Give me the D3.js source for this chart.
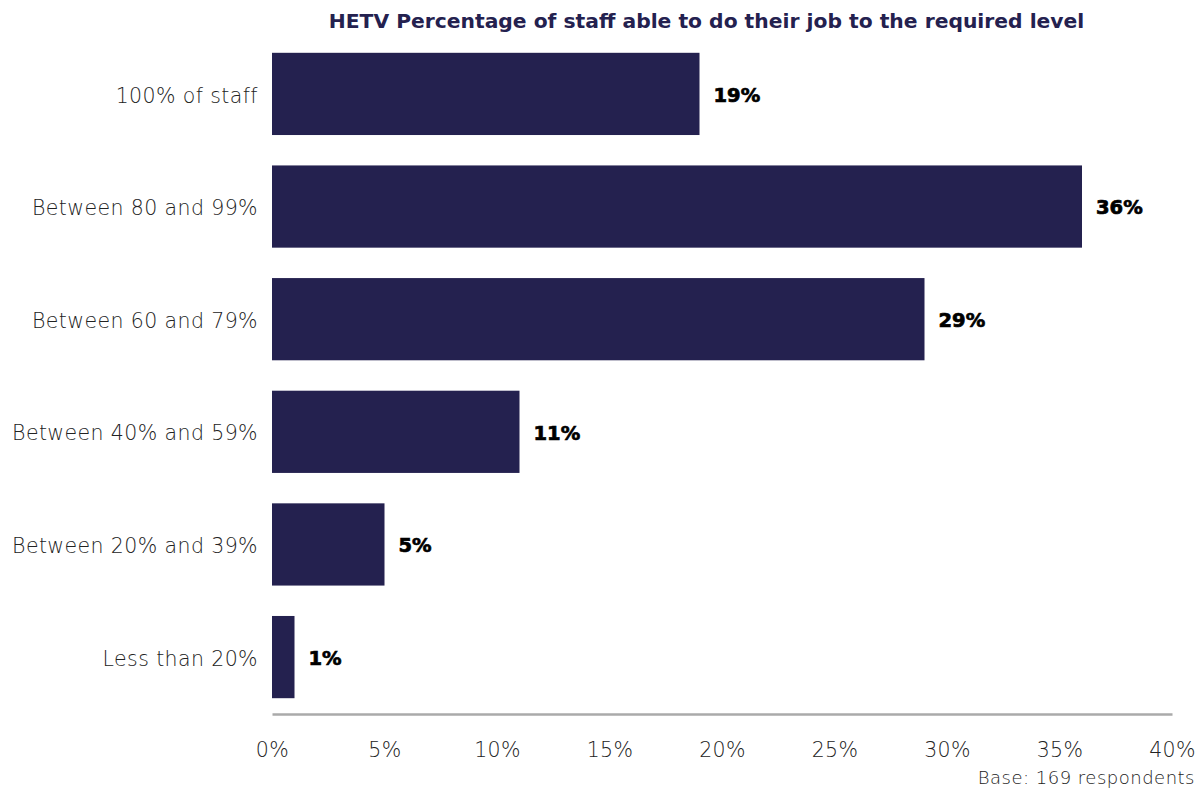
<!DOCTYPE html>
<html><head><meta charset="utf-8">
<script src="https://cdn.jsdelivr.net/npm/d3@7"></script>
<style>
body{margin:0;background:#fff;}
svg{display:block;font-family:"DejaVu Sans",sans-serif;}
</style></head><body>
<svg id="chart" width="1198" height="791"></svg>
<script>
const categories = ["100% of staff","Between 80 and 99%","Between 60 and 79%","Between 40% and 59%","Between 20% and 39%","Less than 20%"];
const values = [19,36,29,11,5,1];
const valueLabels = ["19%","36%","29%","11%","5%","1%"];
const tickValues = [0,5,10,15,20,25,30,35,40];
const title = "HETV Percentage of staff able to do their job to the required level";
const note = "Base: 169 respondents";

const svg = d3.select("#chart");
const x = d3.scaleLinear().domain([0,40]).range([272,1172]);
const y = d3.scaleBand().domain(categories).range([37.6,713.4]).paddingInner(0.27).paddingOuter(0.135);
const barColor = "#24214f";
const textColor = "#222";

svg.append("text").attr("x",706.5).attr("y",28).attr("text-anchor","middle")
  .attr("font-size",20.3).attr("font-weight",700).attr("fill",barColor).text(title);

svg.append("g").selectAll("rect").data(values).join("rect")
  .attr("x",x(0)).attr("y",(d,i)=>y(categories[i])).attr("width",d=>x(d)-x(0))
  .attr("height",y.bandwidth()).attr("fill",barColor);

svg.append("g").selectAll("text").data(values).join("text")
  .attr("x",d=>x(d)+14).attr("y",(d,i)=>y(categories[i])+y.bandwidth()/2).attr("dy","0.4em")
  .attr("font-size",19.5).attr("font-weight",700).attr("fill","#000")
  .attr("stroke","#000").attr("stroke-width",0.7).text((d,i)=>valueLabels[i]);

svg.append("g").selectAll("text").data(categories).join("text")
  .attr("x",258).attr("y",d=>y(d)+y.bandwidth()/2).attr("dy","0.42em").attr("text-anchor","end")
  .attr("font-size",20.5).attr("font-weight",200).attr("letter-spacing",0.4).attr("fill",textColor).text(d=>d);

const axis = svg.append("g").attr("transform","translate(0,714)")
  .call(d3.axisBottom(x).tickValues(tickValues).tickSize(0).tickPadding(0).tickFormat(d=>d+"%"));
axis.select(".domain").attr("stroke","#aaa").attr("stroke-width",2.5);
axis.selectAll("text").attr("y",43).attr("dy",null).attr("font-size",20.5).attr("font-weight",200)
  .attr("letter-spacing",0.4).attr("fill",textColor).attr("font-family","'DejaVu Sans',sans-serif");

svg.append("text").attr("x",1195).attr("y",784).attr("text-anchor","end")
  .attr("font-size",18).attr("font-weight",200).attr("letter-spacing",0.5).attr("fill",textColor).text(note);
</script></body></html>
